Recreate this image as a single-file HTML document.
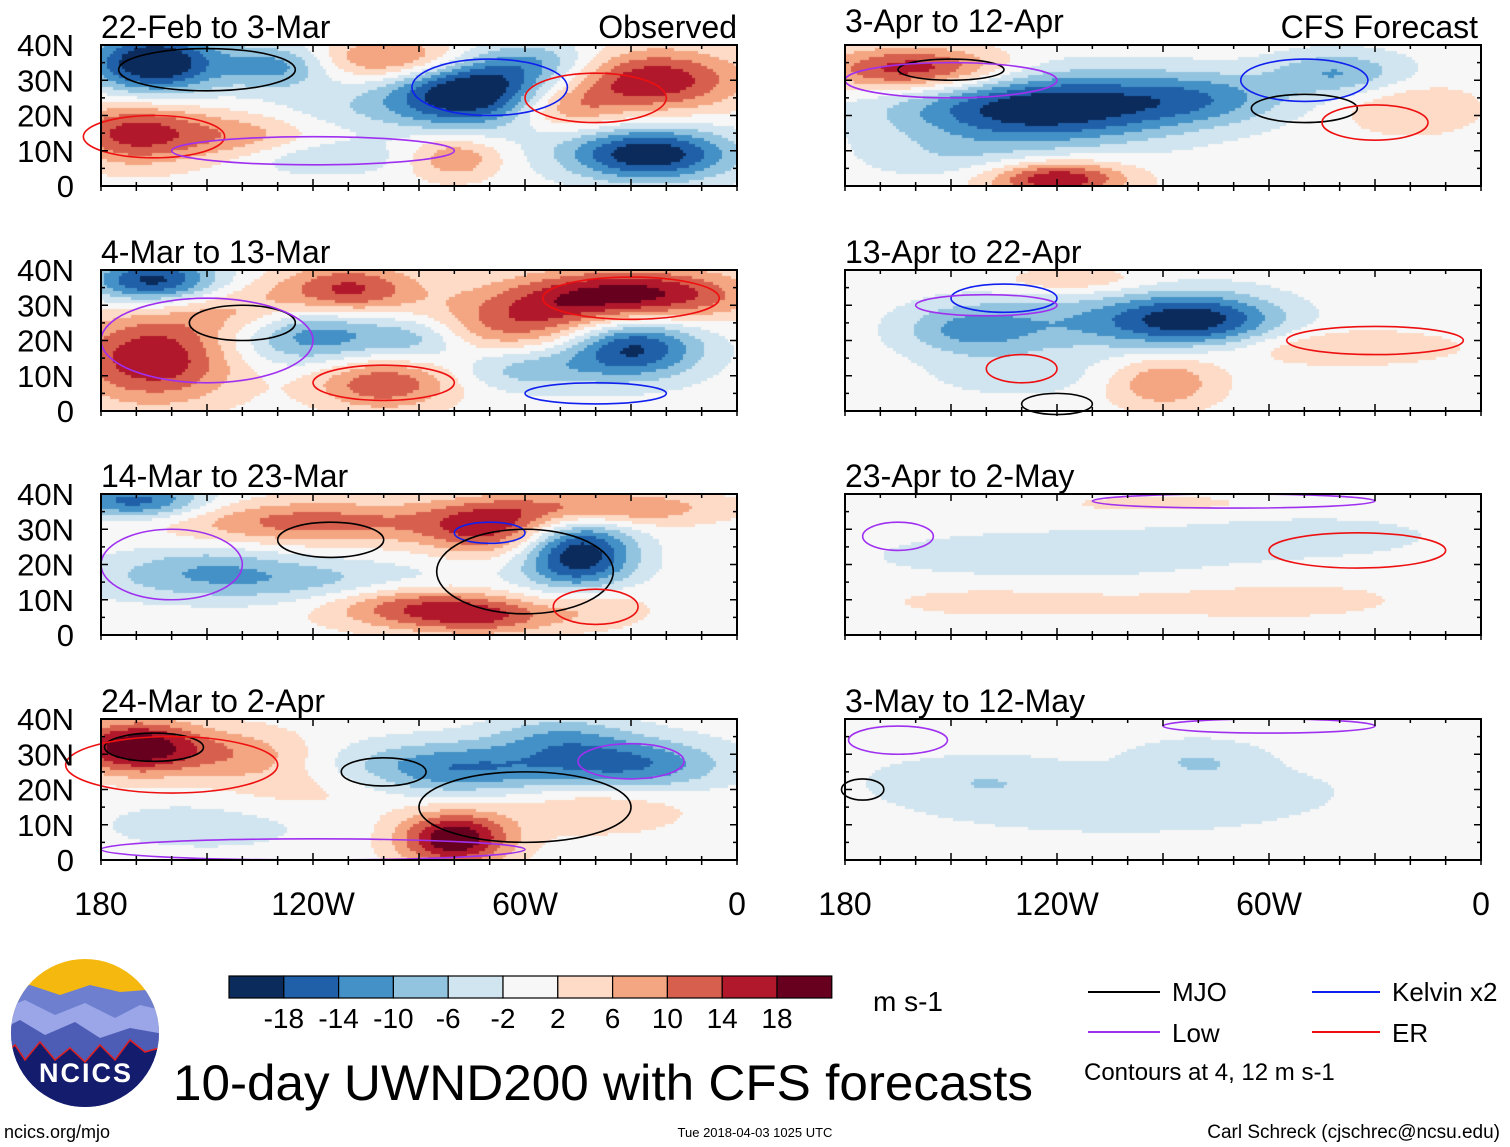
<!DOCTYPE html>
<html><head><meta charset="utf-8"><style>
body{margin:0;background:#fff;width:1510px;height:1147px;position:relative;overflow:hidden;font-family:"Liberation Sans",sans-serif}
canvas{position:absolute}
svg{position:absolute;left:0;top:0}
text{font-family:"Liberation Sans",sans-serif}
</style></head><body>
<div id="canv"></div>
<svg id="s" width="1510" height="1147"></svg>
<script>
// ---- data ----
const levels=[-18,-14,-10,-6,-2,2,6,10,14,18];
const colors=["#0b2b5d","#2060a8","#4391c6","#93c4df","#d1e5f0","#f7f7f7","#fddbc7","#f4a582","#d6604d","#b2182b","#67001f"];
const levelLabels=["-18","-14","-10","-6","-2","2","6","10","14","18"];
const xTickLabels=["180","120W","60W","0"];
const xTickLons=[180,120,60,0];
const yTickLabels=["40N","30N","20N","10N","0"];
const yTickLats=[40,30,20,10,0];
const panelTitles=["22-Feb to 3-Mar","4-Mar to 13-Mar","14-Mar to 23-Mar","24-Mar to 2-Apr","3-Apr to 12-Apr","13-Apr to 22-Apr","23-Apr to 2-May","3-May to 12-May"];
// anomaly blobs: [lonW, lat, value m/s, rx deg, ry deg]
const blobs0=[[165,35,-24,14,7],[130,34,-12,12,5],[75,27,-24,18,8],[55,35,-8,15,5],[25,9,-22,18,6],[170,15,16,15,7],[140,14,8,15,6],[95,36,14,18,5],[25,30,18,20,7],[50,22,10,12,5],[80,8,10,10,5],[120,8,-6,20,4],[110,22,-4,25,5]];
const blobs1=[[165,37,-20,14,5],[165,15,18,18,10],[140,28,8,15,6],[110,34,16,15,6],[30,33,20,25,6],[60,25,12,20,7],[100,8,14,15,6],[120,22,-14,20,7],[30,18,-20,15,7],[60,12,-8,15,5],[90,20,-6,10,5]];
const blobs2=[[170,38,-16,15,4],[120,32,12,30,5],[70,30,14,15,6],[40,36,12,25,4],[45,23,-22,12,8],[130,15,-8,40,5],[90,8,14,20,5],[70,5,10,15,4],[40,8,6,12,5],[150,20,-6,20,5]];
const blobs3=[[170,32,22,14,6],[140,30,8,15,6],[80,26,-14,25,6],[30,27,-14,20,6],[50,35,-8,15,5],[80,6,22,12,6],[40,15,6,20,6],[120,20,4,20,6],[150,10,-4,25,6]];
const blobs4=[[160,33,18,20,5],[125,22,-22,30,8],[80,25,-10,20,6],[40,32,-10,15,5],[20,22,6,15,6],[120,2,18,15,4],[150,8,-4,20,5]];
const blobs5=[[80,26,-18,18,6],[145,23,-10,15,6],[110,25,-8,25,7],[90,8,10,12,6],[40,18,6,25,4],[130,10,-4,20,5],[115,37,6,15,3]];
const blobs6=[[120,22,-5,40,6],[50,28,-4,30,5],[140,10,3,30,5],[60,10,3,40,6],[90,37,3,30,3]];
const blobs7=[[140,22,-6,25,6],[80,28,-6,15,5],[100,12,-3,40,5],[60,20,-3,20,5]];
// contours: [lonW, lat, rx deg, ry deg, type]
const cont0=[[150,33,25,6,"k"],[70,28,22,8,"b"],[40,25,20,7,"r"],[165,14,20,6,"r"],[120,10,40,4,"p"]];
const cont1=[[140,25,15,5,"k"],[30,32,25,6,"r"],[100,8,20,5,"r"],[150,20,30,12,"p"],[40,5,20,3,"b"]];
const cont2=[[115,27,15,5,"k"],[70,29,10,3,"b"],[60,18,25,12,"k"],[160,20,20,10,"p"],[40,8,12,5,"r"]];
const cont3=[[165,32,14,4,"k"],[160,27,30,8,"r"],[100,25,12,4,"k"],[60,15,30,10,"k"],[30,28,15,5,"p"],[120,3,60,3,"p"]];
const cont4=[[150,33,15,3,"k"],[150,30,30,5,"p"],[50,30,18,6,"b"],[50,22,15,4,"k"],[30,18,15,5,"r"]];
const cont5=[[135,32,15,4,"b"],[140,30,20,3,"p"],[130,12,10,4,"r"],[30,20,25,4,"r"],[120,2,10,3,"k"]];
const cont6=[[165,28,10,4,"p"],[35,24,25,5,"r"],[70,38,40,2,"p"]];
const cont7=[[165,34,14,4,"p"],[175,20,6,3,"k"],[60,38,30,2,"p"]];
const allBlobs=[blobs0,blobs1,blobs2,blobs3,blobs4,blobs5,blobs6,blobs7];
const allCont=[cont0,cont1,cont2,cont3,cont4,cont5,cont6,cont7];
const ctype={k:"#000",p:"#a030f0",b:"#1020ee",r:"#ee1010"};

// ---- layout ----
const PW=636,PH=141;
const panelX=[101,101,101,101,845,845,845,845];
const panelY=[45,270,494,719,45,270,494,719];
const s=document.getElementById('s');
const NS="http://www.w3.org/2000/svg";
function el(t,a,p){const e=document.createElementNS(NS,t);for(const k in a)e.setAttribute(k,a[k]);(p||s).appendChild(e);return e;}
function txt(x,y,str,size,anchor){const e=el('text',{x:x,y:y,'font-size':size,'text-anchor':anchor||'start',fill:'#000'});e.textContent=str;return e;}
function colorOf(v){let i=0;while(i<levels.length&&v>=levels[i])i++;return colors[i];}

for(let p=0;p<8;p++){
  const x0=panelX[p],y0=panelY[p];
  const xs=lon=>x0+(180-lon)/180*PW, ys=lat=>y0+PH-lat/40*PH;
  const c=document.createElement('canvas');c.width=PW;c.height=PH;
  c.style.left=x0+'px';c.style.top=y0+'px';
  
  
  document.getElementById('canv').appendChild(c);
  const g=c.getContext('2d');const B=allBlobs[p];const st=3;
  for(let px=0;px<PW;px+=st)for(let py=0;py<PH;py+=st){
    const lon=180-(px+st/2)/PW*180,lat=40-(py+st/2)/PH*40;let v=0;
    for(const b of B){const dx=(lon-b[0])/(b[3]*1.3),dy=(lat-b[1])/(b[4]*1.25);v+=b[2]*Math.exp(-(dx*dx+dy*dy));}
    g.fillStyle=colorOf(v);g.fillRect(px,py,st,st);
  }
  const grp=el('g',{});
  
  
  for(const ct of allCont[p]){
    const e=el('ellipse',{cx:xs(ct[0]),cy:ys(ct[1]),rx:ct[2]/180*PW,ry:ct[3]/40*PH,fill:'none',stroke:ctype[ct[4]],'stroke-width':1.6},grp);
    
    
  }
  el('rect',{x:x0,y:y0,width:PW,height:PH,fill:'none',stroke:'#000','stroke-width':2},grp);
  for(let lon=0;lon<=180;lon+=10){const x=xs(lon);const L=lon%30==0?7:4;
    el('line',{x1:x,x2:x,y1:y0,y2:y0+L,stroke:'#000','stroke-width':1.5},grp);
    el('line',{x1:x,x2:x,y1:y0+PH,y2:y0+PH-L,stroke:'#000','stroke-width':1.5},grp);
    el('line',{x1:x,x2:x,y1:y0+PH,y2:y0+PH+5,stroke:'#000','stroke-width':1.5},grp);}
  for(let lat=0;lat<=40;lat+=5){const y=ys(lat);const L=lat%10==0?7:4;
    el('line',{x1:x0,x2:x0+L,y1:y,y2:y,stroke:'#000','stroke-width':1.5},grp);
    el('line',{x1:x0+PW,x2:x0+PW-L,y1:y,y2:y,stroke:'#000','stroke-width':1.5},grp);}
  if(p<4){yTickLabels.forEach((l,i)=>{const t=txt(74,ys(yTickLats[i])+11,l,31,'end');});}
  const ty=(p==4)?y0-13:y0-7;
  const t=txt(x0,ty,panelTitles[p],32);
  if(p==0){const o=txt(737,y0-7,"Observed",32,'end');}
  if(p==4){const o=txt(1478,y0-7,"CFS Forecast",32,'end');}
  if(p==3||p==7){xTickLons.forEach((lon,i)=>{const t=txt(xs(lon),915,xTickLabels[i],32,'middle');});}
}
// colorbar
const cbx=229,cbw=54.8;
colors.forEach((c,i)=>{const r=el('rect',{x:cbx+i*cbw,y:976,width:cbw,height:22,fill:c,stroke:'#000','stroke-width':1.2});
  });
levelLabels.forEach((l,i)=>{const t=txt(cbx+(i+1)*cbw,1028,l,28,'middle');});
</script>
<svg width="1510" height="1147">
<g>
<defs><clipPath id="cl"><circle cx="85" cy="1033" r="74"/></clipPath></defs>
<g clip-path="url(#cl)">
<rect x="0" y="950" width="170" height="170" fill="#f5b80f"/>
<path d="M0 990 L30 985 L60 995 L90 985 L120 992 L170 988 L170 1120 L0 1120Z" fill="#6f7fcf"/>
<path d="M0 1010 L25 1000 L55 1015 L85 1003 L115 1018 L140 1005 L170 1012 L170 1120 L0 1120Z" fill="#9aa6e8"/>
<path d="M0 1030 L20 1020 L45 1035 L75 1022 L100 1038 L130 1028 L170 1035 L170 1120 L0 1120Z" fill="#4d5cb5"/>
<path d="M0 1058 L15 1045 L25 1060 L40 1042 L55 1060 L70 1048 L85 1062 L100 1045 L115 1060 L130 1040 L145 1052 L170 1045 L170 1120 L0 1120Z" fill="#141c6e" stroke="#e02020" stroke-width="1.5"/>
</g>
<text x="86" y="1082" font-size="27" font-weight="bold" fill="#fff" text-anchor="middle" letter-spacing="2">NCICS</text>
</g>
<text x="873" y="1011" font-size="28">m s-1</text>
<text x="173" y="1100" font-size="50" textLength="860" lengthAdjust="spacingAndGlyphs">10-day UWND200 with CFS forecasts</text>
<g>
<line x1="1088" x2="1160" y1="992" y2="992" stroke="#000" stroke-width="2"/><text x="1172" y="1001" font-size="26">MJO</text>
<line x1="1088" x2="1160" y1="1032" y2="1032" stroke="#a030f0" stroke-width="2"/><text x="1172" y="1042" font-size="26">Low</text>
<line x1="1312" x2="1380" y1="992" y2="992" stroke="#1020ee" stroke-width="2"/><text x="1392" y="1001" font-size="26">Kelvin x2</text>
<line x1="1312" x2="1380" y1="1032" y2="1032" stroke="#ee1010" stroke-width="2"/><text x="1392" y="1042" font-size="26">ER</text>
<text x="1084" y="1080" font-size="24">Contours at 4, 12 m s-1</text>
</g>
<text x="4" y="1138" font-size="18">ncics.org/mjo</text>
<text x="755" y="1137" font-size="13" text-anchor="middle">Tue 2018-04-03 1025 UTC</text>
<text x="1500" y="1138" font-size="19" text-anchor="end">Carl Schreck (cjschrec@ncsu.edu)</text>
</svg>
</body></html>
